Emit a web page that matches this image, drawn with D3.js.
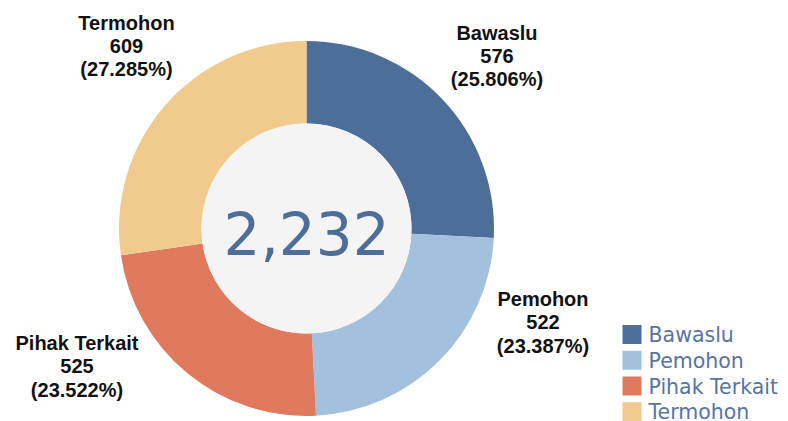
<!DOCTYPE html>
<html>
<head>
<meta charset="utf-8">
<script src="https://cdn.jsdelivr.net/npm/d3@7"></script>
<style>
  html, body { margin: 0; padding: 0; background: #fff; }
  svg { display: block; }
</style>
</head>
<body>
<svg id="chart" width="788" height="421"></svg>
<script>
const categories = ["Bawaslu", "Pemohon", "Pihak Terkait", "Termohon"];
const counts = [576, 522, 525, 609];
const percentLabels = ["25.806%", "23.387%", "23.522%", "27.285%"];
const totalLabel = "2,232";

const colors = ["#4e6e9a", "#a3c1dc", "#e07a5f", "#f1cb8d"];

const width = 788;
const height = 421;
const cx = 306.5;
const cy = 228.5;
const outerR = 187.5;
const innerR = 105;

// label anchors (centre x, first baseline y), placed like the tableau output
const labelAnchor = {
  "Bawaslu": [497, 39.5],
  "Pemohon": [543, 306],
  "Pihak Terkait": [77, 350],
  "Termohon": [126.5, 29.5]
};

const svg = d3.select("#chart");

const data = categories.map((c, i) => ({ name: c, value: counts[i], pct: percentLabels[i], color: colors[i] }));

const pie = d3.pie()
  .sort(null)
  .value(d => d.value);

const arc = d3.arc()
  .innerRadius(innerR)
  .outerRadius(outerR);

const g = svg.append("g")
  .attr("transform", `translate(${cx},${cy})`);

g.selectAll("path")
  .data(pie(data))
  .enter()
  .append("path")
  .attr("d", arc)
  .attr("fill", d => d.data.color);

g.append("circle")
  .attr("r", innerR)
  .attr("fill", "#f4f4f4");

g.append("text")
  .attr("x", 0)
  .attr("y", 26.5)
  .attr("text-anchor", "middle")
  .attr("font-family", "Verdana, 'DejaVu Sans', sans-serif")
  .attr("font-size", 58)
  .attr("fill", "#4e6e9a")
  .text(totalLabel);

// slice labels
const labels = svg.selectAll(".slice-label")
  .data(data)
  .enter()
  .append("text")
  .attr("class", "slice-label")
  .attr("text-anchor", "middle")
  .attr("font-family", "Arial, 'Liberation Sans', sans-serif")
  .attr("font-weight", "bold")
  .attr("font-size", 20)
  .attr("fill", "#111");

labels.each(function(d) {
  const [x, y] = labelAnchor[d.name];
  const t = d3.select(this);
  [d.name, d3.format(",")(d.value), `(${d.pct})`].forEach((line, i) => {
    t.append("tspan")
      .attr("x", x)
      .attr("y", y + i * 23.3)
      .text(line);
  });
});

// legend
const legend = svg.append("g")
  .attr("transform", "translate(622.5,325)");

const legendY = d3.scaleBand()
  .domain(categories)
  .range([0, 103])
  .paddingInner(0);

legend.selectAll("rect")
  .data(data)
  .enter()
  .append("rect")
  .attr("x", 0)
  .attr("y", d => legendY(d.name))
  .attr("width", 19)
  .attr("height", 19)
  .attr("fill", d => d.color);

legend.selectAll("text")
  .data(data)
  .enter()
  .append("text")
  .attr("x", 26)
  .attr("y", d => legendY(d.name) + 17)
  .attr("font-family", "Verdana, 'DejaVu Sans', sans-serif")
  .attr("font-size", 20.5)
  .attr("fill", "#5874a0")
  .text(d => d.name);
</script>
</body>
</html>
